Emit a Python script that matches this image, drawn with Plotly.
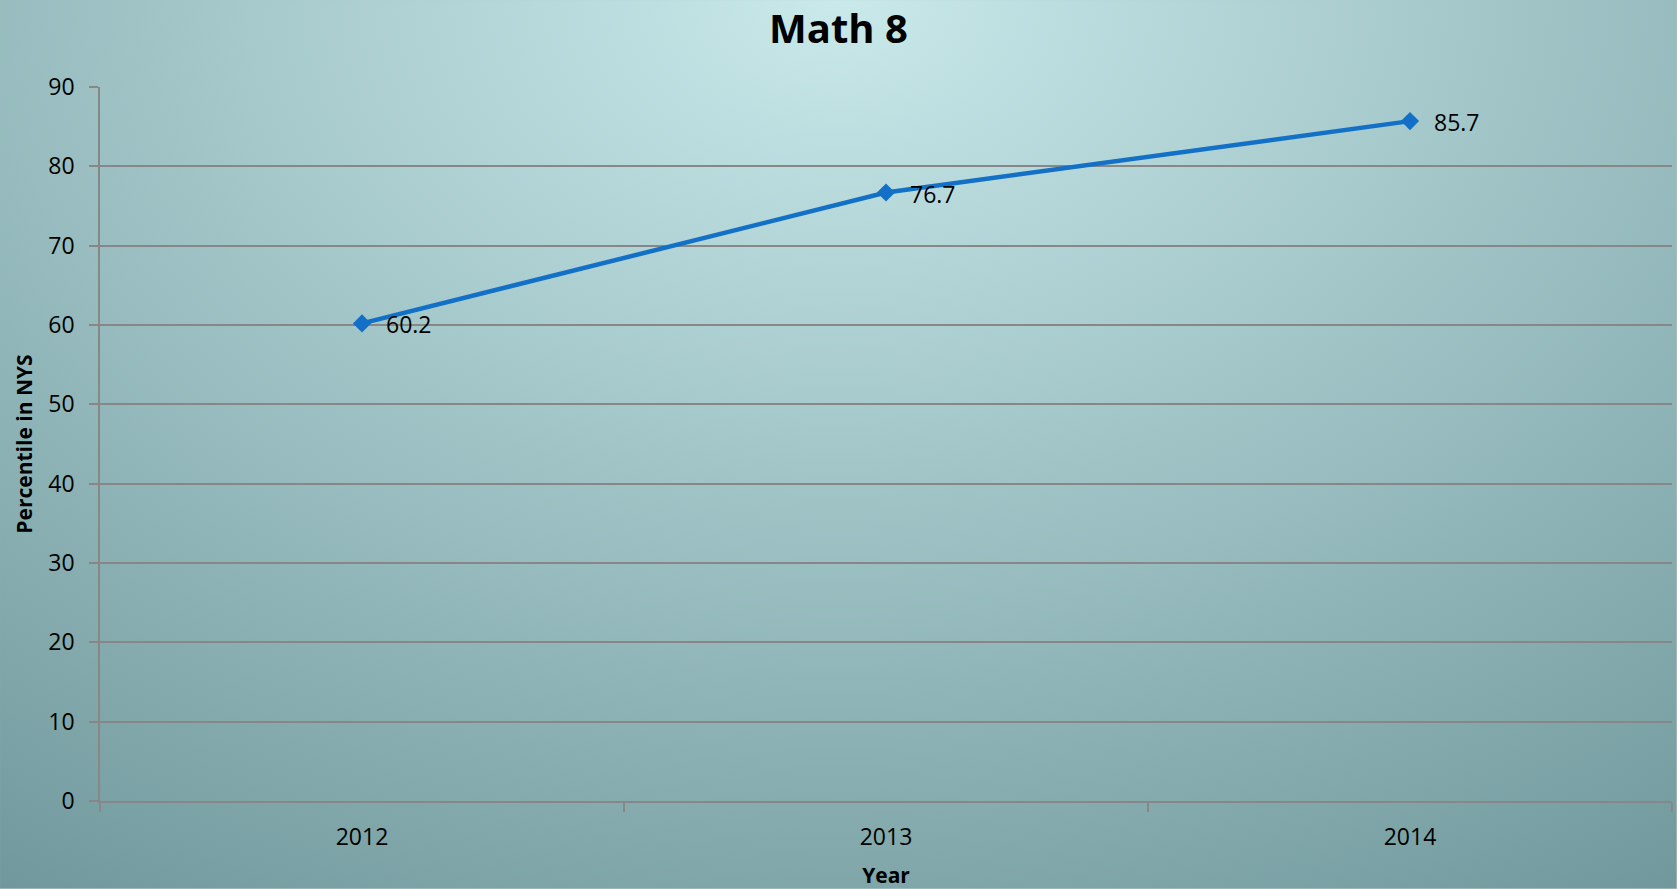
import base64
import plotly.graph_objects as go

# ---- data ----
years = ["2012", "2013", "2014"]
percentiles = [60.2, 76.7, 85.7]
y_ticks = [0, 10, 20, 30, 40, 50, 60, 70, 80, 90]

W, H = 1677, 889
L, R, T, B = 100, 4.5, 87, 87.5
pw, ph = W - L - R, H - T - B

FONT = "Open Sans"
LINE_BLUE = "#1270C7"
GRID = "#878787"

# background gradient (radial, light at top centre)
svg = (
    '<svg xmlns="http://www.w3.org/2000/svg" width="1677" height="889" '
    'viewBox="0 0 100 100" preserveAspectRatio="none">'
    '<defs><radialGradient id="g" gradientUnits="userSpaceOnUse" cx="50" cy="0" r="100" '
    'gradientTransform="translate(50 0) scale(0.922 1.239) translate(-50 0)">'
    '<stop offset="0" stop-color="#C9E9EA"/>'
    '<stop offset="1" stop-color="#6E969A"/>'
    '</radialGradient></defs>'
    '<rect x="0" y="0" width="100" height="100" fill="url(#g)"/></svg>'
)
bg_uri = "data:image/svg+xml;base64," + base64.b64encode(svg.encode()).decode()

fig = go.Figure()
fig.add_trace(go.Scatter(
    x=years, y=percentiles, mode="lines+markers",
    line=dict(color=LINE_BLUE, width=4.5),
    marker=dict(symbol="diamond", size=14, color=LINE_BLUE),
    showlegend=False, hoverinfo="x+y",
))

# data labels (category index positions on the category axis)
for i, v in enumerate(percentiles):
    fig.add_annotation(
        x=i, y=v, xref="x", yref="y", text=f"{v:.1f}", showarrow=False,
        xanchor="left", yanchor="middle", xshift=22, yshift=-1,
        font=dict(family=FONT, size=23, color="black"),
    )

fig.update_layout(
    width=W, height=H,
    margin=dict(l=L, r=R, t=T, b=B, pad=0),
    paper_bgcolor="#9DBFC1",
    plot_bgcolor="rgba(0,0,0,0)",
    font=dict(family=FONT, color="black"),
    title=dict(
        text="<b>Math 8</b>", x=0.5, xanchor="center", xref="container",
        y=1 - 29 / H, yanchor="middle", yref="container",
        font=dict(family=FONT, size=40, color="black"),
    ),
    images=[dict(
        source=bg_uri, xref="paper", yref="paper",
        x=-L / pw, y=1 + T / ph, sizex=W / pw, sizey=H / ph,
        xanchor="left", yanchor="top", sizing="stretch", layer="below",
    )],
    xaxis=dict(
        type="category", categoryorder="array", categoryarray=years,
        range=[-0.5, 2.5], tickson="boundaries",
        ticks="outside", ticklen=9, tickwidth=1.5, tickcolor=GRID,
        showline=True, linecolor=GRID, linewidth=1.5,
        showgrid=False, zeroline=False,
        tickfont=dict(family=FONT, size=23, color="black"),
        ticklabelstandoff=15,
        title=dict(text="<b>Year</b>", font=dict(family=FONT, size=21, color="black"), standoff=18),
    ),
    yaxis=dict(
        range=[0, 90], tickvals=y_ticks, ticktext=[str(t) for t in y_ticks],
        ticks="outside", ticklen=9, tickwidth=1.5, tickcolor=GRID,
        showline=True, linecolor=GRID, linewidth=1.5,
        showgrid=True, gridcolor=GRID, gridwidth=1.5, zeroline=False,
        tickfont=dict(family=FONT, size=23, color="black"),
        ticklabelstandoff=10,
        title=dict(text="<b>Percentile in NYS</b>", font=dict(family=FONT, size=21, color="black"), standoff=10),
    ),
)

fig.write_html("out.html", config={"displayModeBar": False},
               post_script="document.body.style.margin='0';")
